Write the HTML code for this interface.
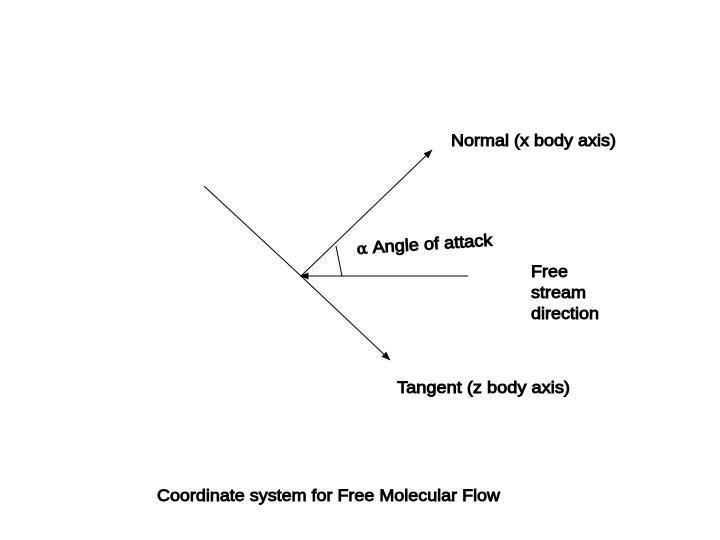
<!DOCTYPE html>
<html>
<head>
<meta charset="utf-8">
<style>
html,body{margin:0;padding:0;background:#fff;width:720px;height:540px;overflow:hidden}
svg{display:block}
text{font-family:"Liberation Sans",sans-serif;font-size:17px;fill:#000;stroke:#000;stroke-width:.9px}
line{stroke:#000;stroke-width:1}
</style>
</head>
<body>
<svg width="720" height="540" viewBox="0 0 720 540">
<defs>
<marker id="arrow" markerUnits="userSpaceOnUse" markerWidth="9" markerHeight="7" refX="8.5" refY="3.5" orient="auto"><path d="M0 0L9 3.5L0 7Z" fill="#000"/></marker>
</defs>
<line x1="204" y1="186" x2="301" y2="276"/>
<line x1="301" y1="276" x2="390" y2="360" marker-end="url(#arrow)"/>
<line x1="301" y1="276" x2="432" y2="150" marker-end="url(#arrow)"/>
<line x1="468" y1="276" x2="300" y2="276" marker-end="url(#arrow)"/>
<line x1="336" y1="246" x2="342" y2="276"/>
<text x="451" y="146" textLength="165" lengthAdjust="spacingAndGlyphs">Normal (x body axis)</text>
<text transform="translate(357 254) rotate(-3.5)" textLength="136" lengthAdjust="spacingAndGlyphs"><tspan font-family="DejaVu Serif, serif" font-size="15">α</tspan> Angle of attack</text>
<text x="531" y="277" textLength="37" lengthAdjust="spacingAndGlyphs">Free</text>
<text x="531" y="298" textLength="55" lengthAdjust="spacingAndGlyphs">stream</text>
<text x="531" y="319" textLength="68" lengthAdjust="spacingAndGlyphs">direction</text>
<text x="397" y="393" textLength="173" lengthAdjust="spacingAndGlyphs">Tangent (z body axis)</text>
<text x="157" y="501" textLength="343" lengthAdjust="spacingAndGlyphs">Coordinate system for Free Molecular Flow</text>
</svg>
</body>
</html>
